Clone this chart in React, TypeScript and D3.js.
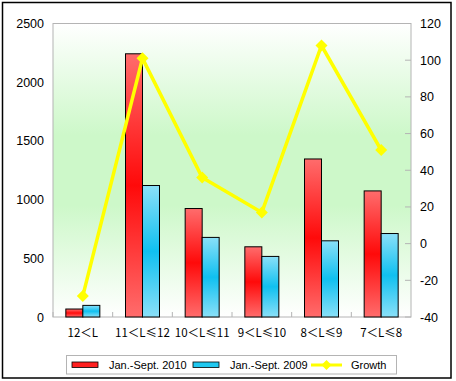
import React from "react";
import * as d3 from "d3";

const categories = ["12＜L", "11＜L≤12", "10＜L≤11", "9＜L≤10", "8＜L≤9", "7＜L≤8"];
const sales2010 = [68, 2242, 924, 598, 1346, 1074];
const sales2009 = [99, 1120, 678, 516, 649, 711];
const growth = [-28.5, 101, 36, 17, 108, 51];
const leftTicks = [0, 500, 1000, 1500, 2000, 2500];
const rightTicks = [-40, -20, 0, 20, 40, 60, 80, 100, 120];
const seriesNames = ["Jan.-Sept. 2010", "Jan.-Sept. 2009", "Growth"];

const W = 456, H = 381;
const L = 53, R = 411, T = 23.5, B = 317;

export default function App() {
  const x = d3.scaleBand<string>().domain(categories).range([L, R]).padding(0);
  const yL = d3.scaleLinear().domain([0, 2500]).range([B, T]);
  const yR = d3.scaleLinear().domain([-40, 120]).range([B, T]);
  const bw = 17;
  const line = d3.line<number>()
    .x((_, i) => x(categories[i])! + x.bandwidth() / 2)
    .y((d) => yR(d));
  const font = "'Liberation Sans', Arial, sans-serif";
  const diamond = (cx: number, cy: number, r: number) =>
    `M${cx},${cy - r}L${cx + r},${cy}L${cx},${cy + r}L${cx - r},${cy}Z`;

  return (
    <svg width={W} height={H} style={{ position: "absolute", left: 0, top: 0 }}>
      <defs>
        <linearGradient id="bg" x1="0" y1="0" x2="0" y2="1">
          <stop offset="0" stopColor="#ffffff" />
          <stop offset="0.38" stopColor="#cdf8c9" />
          <stop offset="0.62" stopColor="#cdf8c9" />
          <stop offset="1" stopColor="#ffffff" />
        </linearGradient>
        <linearGradient id="red" x1="0" y1="0" x2="0" y2="1">
          <stop offset="0" stopColor="#ff6c6c" />
          <stop offset="0.5" stopColor="#ff0a0a" />
          <stop offset="1" stopColor="#ff6c6c" />
        </linearGradient>
        <linearGradient id="blue" x1="0" y1="0" x2="0" y2="1">
          <stop offset="0" stopColor="#8ae0f8" />
          <stop offset="0.5" stopColor="#10c0f0" />
          <stop offset="1" stopColor="#8ae0f8" />
        </linearGradient>
      </defs>
      <rect x={0} y={0} width={W} height={H} fill="#fff" />
      <rect x={2.5} y={2.5} width={448.5} height={375.5} fill="none" stroke="#000" strokeWidth={1.5} />
      <rect x={L} y={T} width={R - L} height={B - T} fill="url(#bg)" stroke="#b4b4b4" strokeWidth={1} />
      {categories.map((c, i) => (
        <line key={"ct" + i} x1={x(c)!} x2={x(c)!} y1={B} y2={B - 5} stroke="#b4b4b4" />
      ))}
      {rightTicks.map((t) => (
        <line key={"rt" + t} x1={R - 6} x2={R} y1={yR(t)} y2={yR(t)} stroke="#b4b4b4" />
      ))}
      {categories.map((c, i) => {
        const cx = x(c)! + x.bandwidth() / 2;
        return (
          <g key={"b" + i}>
            <rect x={cx - bw} y={yL(sales2010[i])} width={bw} height={B - yL(sales2010[i])}
              fill="url(#red)" stroke="#000" strokeWidth={1} />
            <rect x={cx} y={yL(sales2009[i])} width={bw} height={B - yL(sales2009[i])}
              fill="url(#blue)" stroke="#000" strokeWidth={1} />
          </g>
        );
      })}
      <path d={line(growth)!} fill="none" stroke="#ffff00" strokeWidth={3.5} />
      {growth.map((g, i) => (
        <path key={"d" + i} d={diamond(x(categories[i])! + x.bandwidth() / 2, yR(g), 6)} fill="#ffff00" />
      ))}
      {leftTicks.map((t) => (
        <text key={"lt" + t} x={44} y={yL(t) + 4.5} textAnchor="end" fontFamily={font} fontSize={12.5} fill="#000">{t}</text>
      ))}
      {rightTicks.map((t) => (
        <text key={"rl" + t} x={420} y={yR(t) + 4.5} textAnchor="start" fontFamily={font} fontSize={12.5} fill="#000">{t}</text>
      ))}
      {categories.map((c) => (
        <text key={"cl" + c} x={x(c)! + x.bandwidth() / 2} y={337} textAnchor="middle"
          fontFamily="'Noto Sans CJK SC', sans-serif" fontSize={11.5} fill="#000">{c}</text>
      ))}
      <rect x={66.5} y={355.5} width={330} height={18.5} fill="#fff" stroke="#b4b4b4" />
      <rect x={72} y={362} width={26} height={5.5} fill="#ff2020" stroke="#000" strokeWidth={0.8} />
      <text x={109} y={368.5} fontFamily={font} fontSize={11} fill="#000">{seriesNames[0]}</text>
      <rect x={193} y={362} width={26} height={5.5} fill="#20c8f0" stroke="#000" strokeWidth={0.8} />
      <text x={230} y={368.5} fontFamily={font} fontSize={11} fill="#000">{seriesNames[1]}</text>
      <line x1={311} x2={342} y1={365} y2={365} stroke="#ffff00" strokeWidth={3} />
      <path d={diamond(326.5, 365, 5)} fill="#ffff00" />
      <text x={351} y={369} fontFamily={font} fontSize={11} fill="#000">{seriesNames[2]}</text>
    </svg>
  );
}
